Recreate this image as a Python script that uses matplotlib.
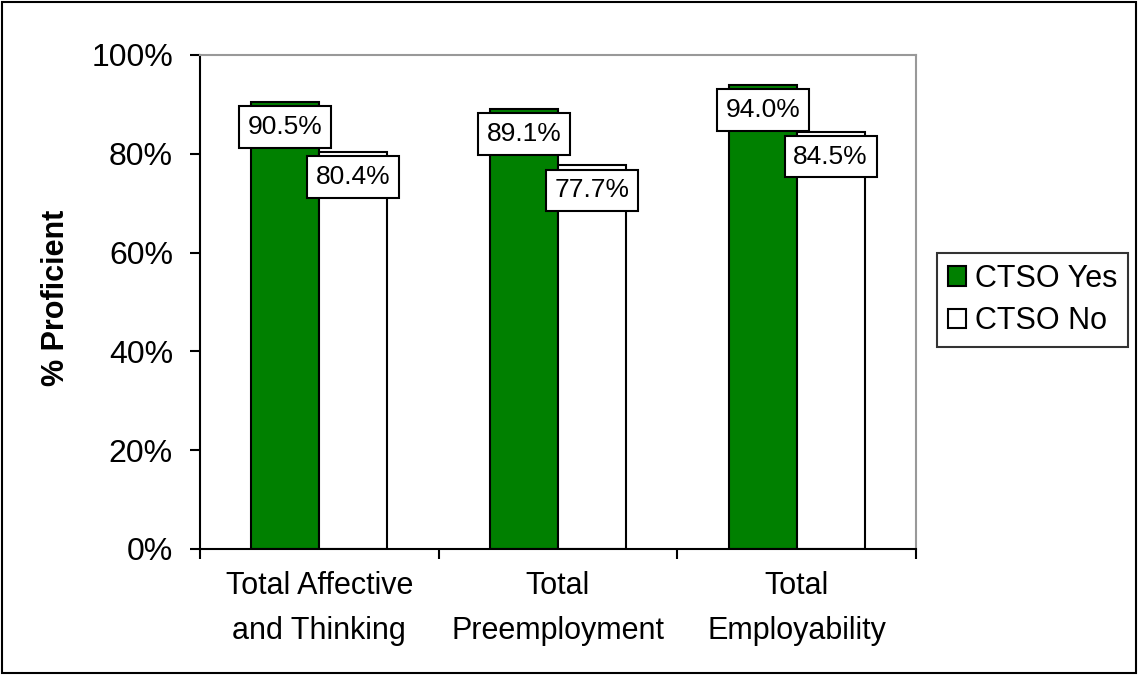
import matplotlib
matplotlib.use("Agg")
import matplotlib.pyplot as plt
from matplotlib.patches import Rectangle
import numpy as np

plt.rcParams['font.family'] = ['Liberation Sans', 'DejaVu Sans']

categories = ["Total Affective\nand Thinking", "Total\nPreemployment", "Total\nEmployability"]
ctso_yes = [90.5, 89.1, 94.0]
ctso_no = [80.4, 77.7, 84.5]
series_names = ["CTSO Yes", "CTSO No"]
yticks = [0, 20, 40, 60, 80, 100]

FS = 22
fig = plt.figure(figsize=(11.38, 6.75), dpi=100)
ax = fig.add_axes([200/1138, 1-549/675, 716/1138, 494/675])

x = np.arange(len(categories))
w = 0.285
b1 = ax.bar(x - w/2, ctso_yes, w, color='#008000', edgecolor='black', linewidth=1.5, label=series_names[0], zorder=2)
b2 = ax.bar(x + w/2, ctso_no, w, color='white', edgecolor='black', linewidth=1.5, label=series_names[1], zorder=2)

for xs, vals in ((x - w/2, ctso_yes), (x + w/2, ctso_no)):
    for xi, v in zip(xs, vals):
        ax.text(xi, v - 5.1, f"{v:.1f}%", ha='center', va='center', fontsize=19, zorder=5,
                bbox=dict(boxstyle='square,pad=0.33', facecolor='white', edgecolor='black', linewidth=1.5))

ax.set_xlim(-0.5, 2.5)
ax.set_ylim(0, 100)
ax.set_yticks(yticks)
ax.set_yticklabels([f"{t}%" for t in yticks], fontsize=23)
ax.set_xticks([-0.5, 0.5, 1.5, 2.5])
ax.set_xticklabels([])
ax.set_xticks(x, minor=True)
ax.set_xticklabels(categories, minor=True, fontsize=FS, linespacing=1.65)
ax.tick_params(axis='x', which='minor', length=0, pad=16)
ax.tick_params(axis='x', which='major', direction='out', length=7.5, width=1.5)
ax.tick_params(axis='y', direction='out', length=7.5, width=1.5, pad=12)
for s in ('top', 'right'):
    ax.spines[s].set_color('#999999')
    ax.spines[s].set_linewidth(1.5)
for s in ('left', 'bottom'):
    ax.spines[s].set_linewidth(1.5)
fig.text(56/1138, 1-298/675, "% Proficient", rotation=90, ha='center', va='center',
         fontsize=FS, fontweight='bold')

leg = fig.legend(handles=[b1, b2], labels=series_names, loc='center left',
                 bbox_to_anchor=(937/1138, 1-300/675), fontsize=FS, frameon=True,
                 fancybox=False, edgecolor='black', handlelength=0.6, handleheight=0.6,
                 handletextpad=0.3, borderpad=0.35, labelspacing=0.4, borderaxespad=0)
leg.get_frame().set_linewidth(1.5)

fig.patches.append(Rectangle((2/1138, 2/675), 1134/1138, 671/675, transform=fig.transFigure,
                             fill=False, edgecolor='black', linewidth=1.5))

fig.savefig("out.png", dpi=100)
